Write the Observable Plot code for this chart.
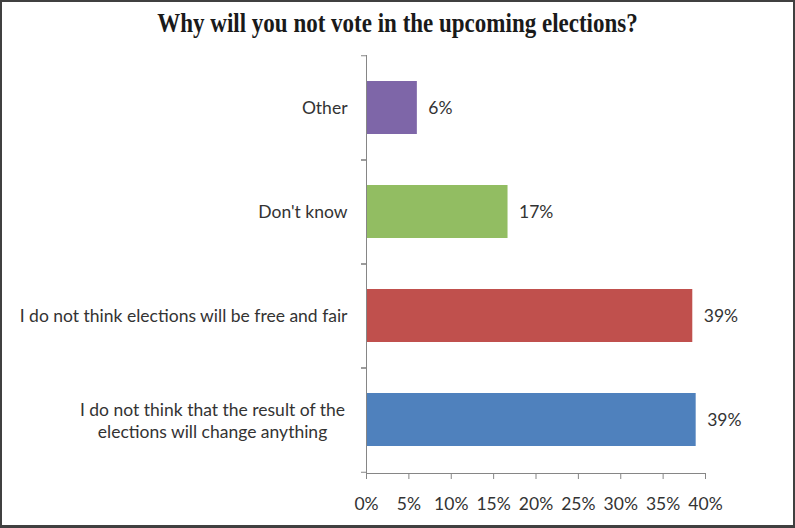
<!DOCTYPE html>
<html>
<head>
<meta charset="utf-8">
<script src="https://cdn.jsdelivr.net/npm/d3@7"></script>
<script src="https://cdn.jsdelivr.net/npm/@observablehq/plot@0.6"></script>
<style>
  html, body { margin: 0; padding: 0; background: #fff; }
  #frame { position: absolute; left: 0; top: 0; width: 795px; height: 528px; box-sizing: border-box; border: 2px solid #404040; border-bottom-width: 3px; }
  #title { position: absolute; left: 0; top: 11px; width: 795px; text-align: center; font-family: "Liberation Serif", "Times New Roman", serif; font-weight: bold; font-size: 23px; color: #1a1a1a; transform: scaleY(1.18); transform-origin: 50% 50%; }
  #chart { position: absolute; left: 0; top: 50px; }
</style>
</head>
<body>
<div id="frame"></div>
<div id="title">Why will you not vote in the upcoming elections?</div>
<div id="chart"></div>
<script>
const categories = [
  "Other",
  "Don't know",
  "I do not think elections will be free and fair",
  "I do not think that the result of the\nelections will change anything"
];
const values = [6, 16.7, 38.5, 38.9];
const valueLabels = ["6%", "17%", "39%", "39%"];
const colors = ["#7E66A8", "#92BD62", "#C0504D", "#4F81BD"];
const xTicks = [0, 5, 10, 15, 20, 25, 30, 35, 40];

const data = categories.map((c, i) => ({cat: c, value: values[i], label: valueLabels[i], color: colors[i]}));
const singleLine = data.filter(d => !d.cat.includes("\n"));
const multiLine = data.filter(d => d.cat.includes("\n"));

const font = "Lato, 'Open Sans', sans-serif";
const fs = 17.5;
const textColor = "#333";
const axisColor = "#868686";

const plot = Plot.plot({
  width: 795,
  height: 474,
  marginLeft: 366,
  marginRight: 90,
  marginTop: 5,
  marginBottom: 51,
  style: {fontFamily: font, fontSize: fs + "px", color: textColor, background: "transparent"},
  x: {domain: [0, 40]},
  y: {domain: categories, paddingInner: 0.49, paddingOuter: 0.245},
  marks: [
    Plot.barX(data, {y: "cat", x: "value", fill: "color"}),
    Plot.ruleX([0], {stroke: axisColor}),
    Plot.frame({anchor: "bottom", stroke: axisColor}),
    Plot.axisX({ticks: xTicks, tickFormat: d => d + "%", tickSize: 6, tickPadding: 18, stroke: axisColor, fill: textColor, label: null, fontSize: fs}),
    Plot.axisY({tickSize: 5, tickFormat: () => "", stroke: axisColor, label: null, dy: -52.25}),
    Plot.axisY({tickSize: 5, tickFormat: () => "", stroke: axisColor, label: null, dy: 52.25}),
    Plot.text(singleLine, {y: "cat", text: "cat", frameAnchor: "left", dx: -19, textAnchor: "end", fill: textColor, fontSize: fs}),
    Plot.text(multiLine, {y: "cat", text: "cat", frameAnchor: "left", dx: -154, textAnchor: "middle", lineHeight: 1.25, fill: textColor, fontSize: fs}),
    Plot.text(data, {y: "cat", x: "value", text: "label", dx: 11, textAnchor: "start", fill: textColor, fontSize: fs})
  ]
});
document.getElementById("chart").appendChild(plot);
</script>
</body>
</html>
